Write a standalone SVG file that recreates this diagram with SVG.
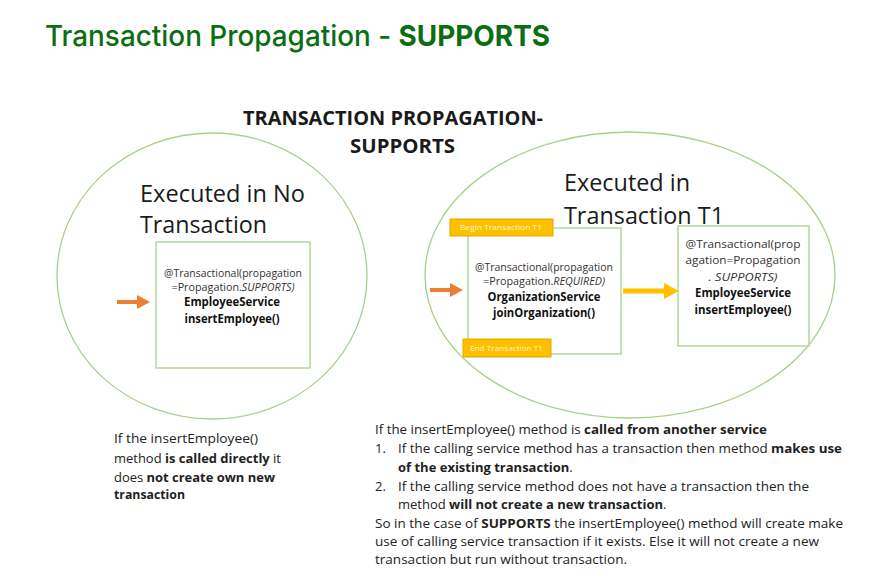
<svg xmlns="http://www.w3.org/2000/svg" width="888" height="577" viewBox="0 0 888 577">
<defs>
<style>
.title{font-family:Inter,"Noto Sans",sans-serif;font-size:29px;font-weight:500;fill:#0b6e12}
.head{font-family:"Open Sans","Liberation Sans",sans-serif;font-size:20px;font-weight:bold;fill:#1a1a1a}
.big{font-family:"Open Sans","Liberation Sans",sans-serif;font-size:24px;fill:#1a1a1a}
.anno{font-family:"Open Sans","Liberation Sans",sans-serif;font-size:11px;fill:#333}
.code{font-family:"Open Sans","Liberation Sans",sans-serif;font-size:12px;font-weight:bold;fill:#111}
.body{font-family:"Open Sans","Liberation Sans",sans-serif;font-size:13px;fill:#222}
.lbl{font-family:"Open Sans","Liberation Sans",sans-serif;font-size:8px;fill:#fff4cc}
.ell{fill:none;stroke:#a9d18e;stroke-width:1.3}
.box{fill:#fff;stroke:#a9d18e;stroke-width:1.3}
.tag{fill:#ffc000;stroke:#e0a800;stroke-width:1}
.b{font-weight:bold}
</style>
</defs>
<rect width="888" height="577" fill="#fff"/>
<text class="title" x="45" y="46" textLength="505" lengthAdjust="spacingAndGlyphs">Transaction Propagation - <tspan font-weight="bold">SUPPORTS</tspan></text>
<g id="heading">
<text class="head" x="243" y="125" textLength="300" lengthAdjust="spacingAndGlyphs">TRANSACTION PROPAGATION-</text>
<text class="head" x="350" y="153" textLength="105" lengthAdjust="spacingAndGlyphs">SUPPORTS</text>
</g>
<g id="left-scope">
<ellipse class="ell" cx="212" cy="276" rx="155" ry="143"/>
<text class="big" x="140" y="202" textLength="165" lengthAdjust="spacingAndGlyphs">Executed in No</text>
<text class="big" x="140" y="233" textLength="127" lengthAdjust="spacingAndGlyphs">Transaction</text>
</g>
<g id="left-employee">
<rect class="box" x="156" y="242" width="154" height="126"/>
<text class="anno" x="233" y="277" text-anchor="middle" textLength="138" lengthAdjust="spacingAndGlyphs">@Transactional(propagation</text>
<text class="anno" x="233" y="291" text-anchor="middle" textLength="123" lengthAdjust="spacingAndGlyphs">=Propagation.<tspan font-style="italic">SUPPORTS)</tspan></text>
<text class="code" x="232" y="306" text-anchor="middle" textLength="96" lengthAdjust="spacingAndGlyphs">EmployeeService</text>
<text class="code" x="232" y="323" text-anchor="middle" textLength="95" lengthAdjust="spacingAndGlyphs">insertEmployee()</text>
</g>
<g id="right-scope">
<ellipse class="ell" cx="630" cy="275" rx="205" ry="143"/>
<text class="big" x="564" y="191" textLength="126" lengthAdjust="spacingAndGlyphs">Executed in</text>
<text class="big" x="564" y="224" textLength="160" lengthAdjust="spacingAndGlyphs">Transaction T1</text>
</g>
<g id="organization-service">
<rect class="box" x="468" y="228" width="153" height="126"/>
<text class="anno" x="544" y="271" text-anchor="middle" textLength="138" lengthAdjust="spacingAndGlyphs">@Transactional(propagation</text>
<text class="anno" x="544" y="285" text-anchor="middle" textLength="122" lengthAdjust="spacingAndGlyphs">=Propagation.<tspan font-style="italic">REQUIRED)</tspan></text>
<text class="code" x="544" y="301" text-anchor="middle" textLength="113" lengthAdjust="spacingAndGlyphs">OrganizationService</text>
<text class="code" x="544" y="317" text-anchor="middle" textLength="102" lengthAdjust="spacingAndGlyphs">joinOrganization()</text>
</g>
<g id="begin-t1">
<rect class="tag" x="450" y="219" width="103" height="17"/>
<text class="lbl" x="460" y="230" textLength="82" lengthAdjust="spacingAndGlyphs">Begin Transaction  T1</text>
</g>
<g id="end-t1">
<rect class="tag" x="463" y="339" width="88" height="18"/>
<text class="lbl" x="470" y="351" textLength="73" lengthAdjust="spacingAndGlyphs">End Transaction T1</text>
</g>
<g id="right-employee">
<rect class="box" x="678" y="226" width="131" height="120"/>
<text class="anno" x="743" y="248" text-anchor="middle" font-size="12" textLength="115" lengthAdjust="spacingAndGlyphs">@Transactional(prop</text>
<text class="anno" x="743" y="264" text-anchor="middle" font-size="12" textLength="115" lengthAdjust="spacingAndGlyphs">agation=Propagation</text>
<text class="anno" x="743" y="281" text-anchor="middle" font-size="12" font-style="italic" textLength="69" lengthAdjust="spacingAndGlyphs">. SUPPORTS)</text>
<text class="code" x="743" y="297" text-anchor="middle" textLength="96" lengthAdjust="spacingAndGlyphs">EmployeeService</text>
<text class="code" x="743" y="314" text-anchor="middle" textLength="97" lengthAdjust="spacingAndGlyphs">insertEmployee()</text>
</g>
<g id="connectors">
<path d="M117 302 H139" stroke="#ed7d31" stroke-width="4" fill="none"/>
<polygon points="137,295 150,302 137,309" fill="#ed7d31"/>
<path d="M430 290 H452" stroke="#ed7d31" stroke-width="4" fill="none"/>
<polygon points="450,283 463,290 450,297" fill="#ed7d31"/>
<path d="M623 291 H665" stroke="#ffc000" stroke-width="5" fill="none"/>
<polygon points="664,283 679,291 664,299" fill="#ffc000"/>
</g>
<g id="note-left">
<text class="body" x="114" y="443" textLength="144" lengthAdjust="spacingAndGlyphs">If the insertEmployee()</text>
<text class="body" x="114" y="463" textLength="167" lengthAdjust="spacingAndGlyphs">method <tspan class="b">is called directly</tspan> it</text>
<text class="body" x="114" y="482" textLength="161" lengthAdjust="spacingAndGlyphs">does <tspan class="b">not create own new</tspan></text>
<text class="body" x="114" y="499" textLength="71" lengthAdjust="spacingAndGlyphs"><tspan class="b">transaction</tspan></text>
</g>
<g id="note-right">
<text class="body" x="375" y="434" textLength="392" lengthAdjust="spacingAndGlyphs">If the insertEmployee()  method is <tspan class="b">called from another service</tspan></text>
<text class="body" x="375" y="453">1.</text>
<text class="body" x="398" y="453" textLength="444" lengthAdjust="spacingAndGlyphs">If the calling service method has a transaction then method <tspan class="b">makes use</tspan></text>
<text class="body" x="398" y="472"><tspan class="b">of the existing transaction</tspan>.</text>
<text class="body" x="375" y="491">2.</text>
<text class="body" x="398" y="491" textLength="411" lengthAdjust="spacingAndGlyphs">If the calling service method does not have a transaction then the</text>
<text class="body" x="398" y="509">method <tspan class="b">will not create a new transaction</tspan>.</text>
<text class="body" x="375" y="528" textLength="468" lengthAdjust="spacingAndGlyphs">So in the case of <tspan class="b">SUPPORTS</tspan> the insertEmployee() method will create make</text>
<text class="body" x="375" y="546" textLength="444" lengthAdjust="spacingAndGlyphs">use of calling service transaction if it exists. Else it will not create a new</text>
<text class="body" x="375" y="564" textLength="252" lengthAdjust="spacingAndGlyphs">transaction but run without transaction.</text>
</g>
</svg>
